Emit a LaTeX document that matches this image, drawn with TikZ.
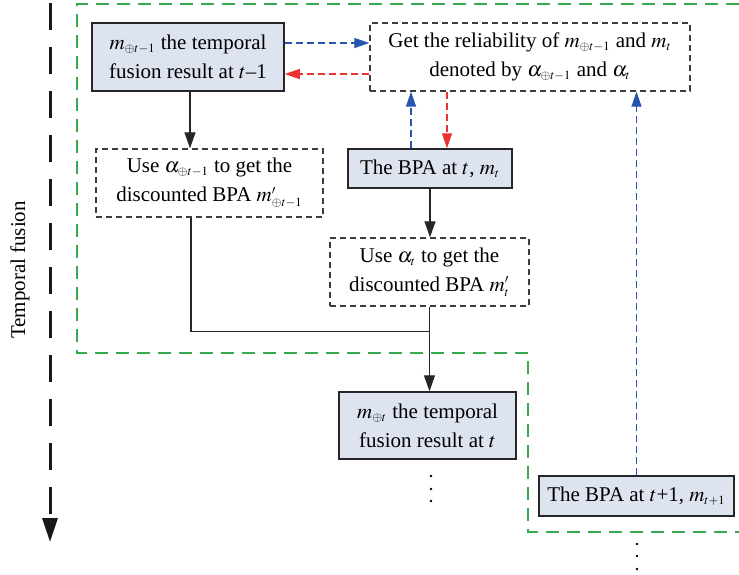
\documentclass[tikz,border=0pt]{standalone}
\usepackage{mathptmx}
\usepackage[no-math]{fontspec}
\setmainfont{Liberation Serif}
\DeclareMathSizes{10.5}{10.5}{6.3}{5}
\usetikzlibrary{arrows.meta,calc}
\definecolor{boxfill}{RGB}{221,228,240}
\definecolor{dgray}{RGB}{60,60,60}
\definecolor{gborder}{RGB}{55,170,80}
\definecolor{barrow}{RGB}{40,85,175}
\definecolor{rarrow}{RGB}{235,50,50}
\newcommand{\nodefont}{\fontsize{10.5}{14.6}\selectfont}
\begin{document}
\begin{tikzpicture}[x=0.5pt,y=0.5pt,
  filledbox/.style={draw=black!85, fill=boxfill, line width=0.75pt, inner sep=0pt, align=center, font=\nodefont},
  dashbox/.style={draw=dgray, dash pattern=on 3pt off 2pt, line width=0.7pt, inner sep=0pt, align=center, font=\nodefont},
  conn/.style={draw=black!85, line width=0.65pt, -{Triangle[length=8pt,width=5.5pt]}},
  bconn/.style={draw=barrow, line width=0.65pt, dash pattern=on 3.5pt off 2pt, -{Triangle[length=7.5pt,width=5pt]}},
  rconn/.style={draw=rarrow, line width=0.65pt, dash pattern=on 3.5pt off 2pt, -{Triangle[length=7.5pt,width=5pt]}},
  greenline/.style={draw=gborder, line width=1pt, dash pattern=on 6.5pt off 4pt},
  timearrow/.style={draw=black!90, line width=1.5pt, dash pattern=on 13.5pt off 8.5pt, -{Triangle[length=12pt,width=7.5pt]}}
]
\useasboundingbox (0,0) rectangle (739,-574);

% green region
\draw[greenline] (739,-4) -- (77,-4) -- (77,-353) -- (528,-353) -- (528,-532) -- (739,-532);

% time arrow
\coordinate (ts) at (50,-3);
\coordinate (te) at (50,-542);
\draw[timearrow] (ts) -- (te);
\node[rotate=90, font=\nodefont] (tl) at (20,-270) {Temporal fusion};

% nodes
\node[filledbox, minimum width=96pt, minimum height=34pt] (A) at (188,-57)
  {$m_{\oplus t-1}$ the temporal\\fusion result at $t$--1};
\node[dashbox, minimum width=160pt, minimum height=34pt] (B) at (530,-57)
  {Get the reliability of $m_{\oplus t-1}$ and $m_t$\\denoted by $\alpha_{\oplus t-1}$ and $\alpha_t$};
\node[dashbox, minimum width=113.5pt, minimum height=34pt] (C) at (209.5,-183)
  {Use $\alpha_{\oplus t-1}$ to get the\\discounted BPA $m'_{\oplus t-1}$};
\node[filledbox, minimum width=82pt, minimum height=19.5pt] (D) at (430,-168.5)
  {The BPA at $t$, $m_t$};
\node[dashbox, minimum width=99.5pt, minimum height=34pt] (E) at (429.5,-272)
  {Use $\alpha_t$ to get the\\discounted BPA $m'_t$};
\node[filledbox, minimum width=88.5pt, minimum height=33.5pt] (F) at (427.5,-425.5)
  {$m_{\oplus t}$ the temporal\\fusion result at $t$};
\node[filledbox, minimum width=97.5pt, minimum height=20pt] (G) at (636.5,-496)
  {The BPA at $t$+1, $m_{t+1}$};

% coloured connectors
\draw[bconn] ([yshift=7pt]A.east) -- ([yshift=7pt]A.east -| B.west);
\draw[rconn] ([yshift=-8.5pt]B.west) -- ([yshift=-8.5pt]B.west -| A.east);
\draw[bconn] ([xshift=-9.5pt]D.north) -- ([xshift=-9.5pt]D.north |- B.south);
\draw[rconn] ([xshift=8.5pt]D.north |- B.south) -- ([xshift=8.5pt]D.north);
\draw[bconn] (G.north) -- (G.north |- B.south);

% black connectors
\draw[conn] ([xshift=1pt]A.south) -- ([xshift=1pt]A.south |- C.north);
\draw[conn] (D.south) -- (D.south |- E.north);
\draw[conn] (E.south) -- (E.south |- F.north);
\path (E.south) ++(0,-25) coordinate (J);
\draw[draw=black!85, line width=0.65pt] ([xshift=-9.25pt]C.south) |- (J);

% continuation dots
\foreach \yy in {476,489,501} \fill (431,-\yy) circle (1.4);
\foreach \yy in {544,556,569} \fill (637,-\yy) circle (1.4);
\end{tikzpicture}
\end{document}
